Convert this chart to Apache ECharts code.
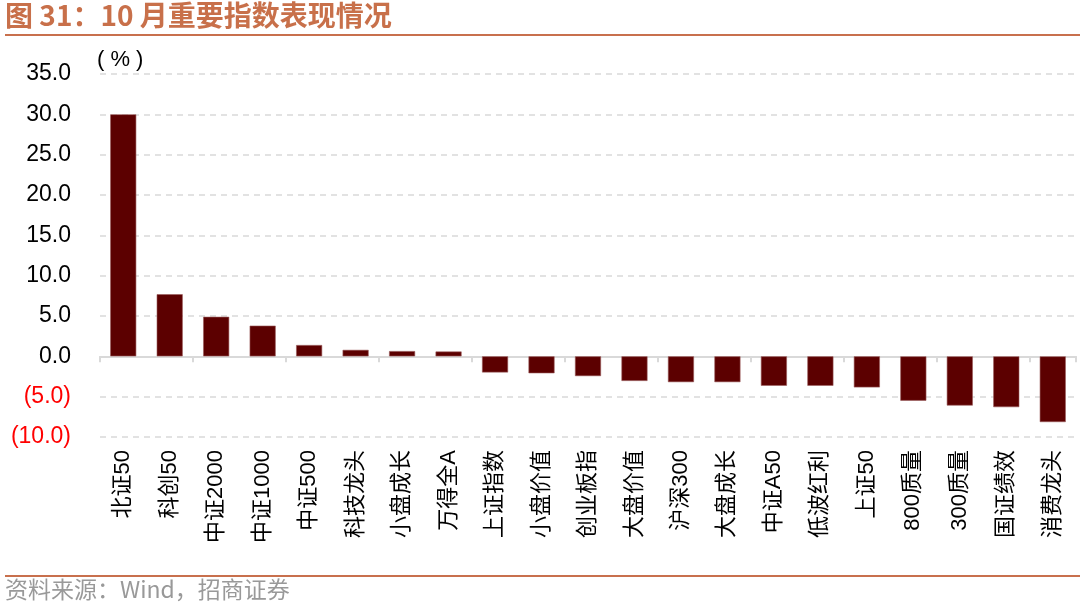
<!DOCTYPE html>
<html>
<head>
<meta charset="utf-8">
<script src="https://cdn.jsdelivr.net/npm/echarts@6/dist/echarts.min.js"></script>
<style>html,body{margin:0;padding:0;background:#fff}#c{width:1080px;height:609px}</style>
</head>
<body>
<div id="c"></div>
<script>
var categories = ['北证50','科创50','中证2000','中证1000','中证500','科技龙头','小盘成长','万得全A','上证指数','小盘价值','创业板指','大盘价值','沪深300','大盘成长','中证A50','低波红利','上证50','800质量','300质量','国证绩效','消费龙头'];
var values = [30.0, 7.7, 4.9, 3.8, 1.4, 0.8, 0.65, 0.6, -2.0, -2.1, -2.45, -3.05, -3.2, -3.2, -3.65, -3.65, -3.85, -5.5, -6.1, -6.3, -8.15];
var titleText = '图 31：10 月重要指数表现情况';
var sourceText = '资料来源：Wind，招商证券';
var unitText = '( % )';

var chart = echarts.init(document.getElementById('c'), null, {renderer: 'canvas'});
var cjk = '"Liberation Sans", Arial, "Noto Sans CJK SC", sans-serif';
chart.setOption({
  animation: false,
  backgroundColor: '#fff',
  grid: {left: 100, right: 4, top: 74, bottom: 172, containLabel: false},
  xAxis: [{
    type: 'category', data: categories,
    axisLine: {show: true, onZero: true, lineStyle: {color: '#d9d9d9', width: 2}},
    axisTick: {show: true, length: 6, lineStyle: {color: '#d9d9d9', width: 2}},
    axisLabel: {show: false}
  }, {
    type: 'category', data: categories, position: 'bottom',
    axisLine: {show: false, onZero: false}, axisTick: {show: false},
    axisLabel: {show: true, rotate: 90, margin: 13, interval: 0, fontSize: 22, color: '#000', fontFamily: cjk}
  }],
  yAxis: {
    type: 'value', min: -10, max: 35, interval: 5,
    axisLine: {show: false}, axisTick: {show: false},
    splitLine: {show: true, lineStyle: {color: '#d9d9d9', type: [6, 5], width: 1.5}},
    axisLabel: {
      margin: 29, fontSize: 23, fontFamily: cjk, color: '#000',
      formatter: function (v) { return v < 0 ? '{n|(' + (-v).toFixed(1) + ')}' : v.toFixed(1); },
      rich: {n: {color: '#ff0000', fontSize: 23, fontFamily: cjk}}
    }
  },
  series: [{
    type: 'bar', data: values, xAxisIndex: 0, barWidth: '56%',
    itemStyle: {color: '#5c0000', borderColor: '#9a5a5a', borderWidth: 0.6}
  }],
  graphic: [
    {type: 'text', left: 5, top: 1, style: {text: titleText, fill: '#c8704a', font: 'bold 28px "Noto Sans CJK SC", sans-serif'}},
    {type: 'rect', shape: {x: 5, y: 34, width: 1075, height: 2}, style: {fill: '#c8704d'}},
    {type: 'text', left: 97, top: 49, style: {text: unitText, fill: '#000', font: '22px ' + cjk}},
    {type: 'rect', shape: {x: 5, y: 575, width: 1075, height: 2}, style: {fill: '#c8704d'}},
    {type: 'text', left: 5, top: 578, style: {text: sourceText, fill: '#999', font: '23px "Noto Sans CJK SC", sans-serif'}}
  ]
});
</script>
</body>
</html>
